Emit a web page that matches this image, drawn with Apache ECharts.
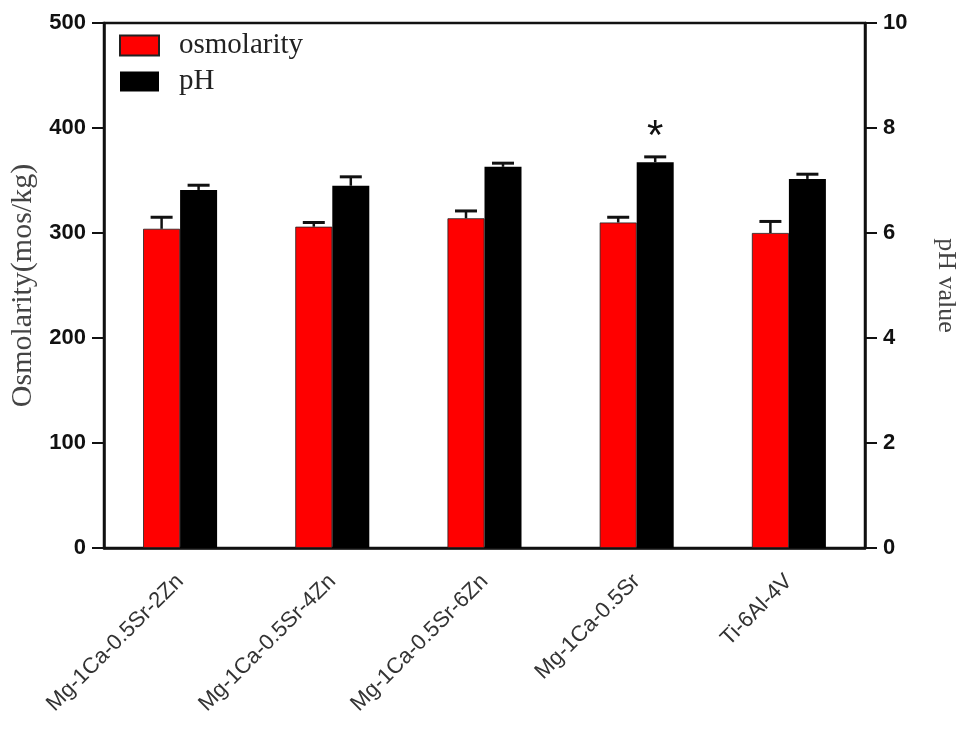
<!DOCTYPE html>
<html>
<head>
<meta charset="utf-8">
<script src="https://cdn.jsdelivr.net/npm/echarts@6/dist/echarts.min.js"></script>
<style>
  html, body { margin: 0; padding: 0; background: #fff; }
  #main { width: 961px; height: 730px; }
</style>
</head>
<body>
<div id="main"></div>
<script>
var categories = ['Mg-1Ca-0.5Sr-2Zn', 'Mg-1Ca-0.5Sr-4Zn', 'Mg-1Ca-0.5Sr-6Zn', 'Mg-1Ca-0.5Sr', 'Ti-6Al-4V'];
var osmolarity = [304, 306, 314, 310, 300];
var osmolaritySd = [11, 4, 7, 5, 11];
var phValue = [6.82, 6.90, 7.26, 7.35, 7.03];
var phSd = [0.09, 0.17, 0.07, 0.10, 0.09];
var starIndex = 3;

var chart = echarts.init(document.getElementById('main'));
var barW = 37;

function errData(vals, sds) {
    return vals.map(function (v, i) { return [i, v, sds[i]]; });
}

// vertical error bar with a cap, shifted onto its own bar
function errRender(offset) {
    return function (params, api) {
        var i = api.value(0), v = api.value(1), s = api.value(2);
        var base = api.coord([i, v]);
        var top = api.coord([i, v + s]);
        var x = base[0] + offset;
        return {
            type: 'group',
            children: [
                { type: 'line', shape: { x1: x, y1: base[1], x2: x, y2: top[1] }, style: { stroke: '#111', lineWidth: 2.5 } },
                { type: 'line', shape: { x1: x - 11, y1: top[1], x2: x + 11, y2: top[1] }, style: { stroke: '#111', lineWidth: 3 } }
            ]
        };
    };
}

var phData = phValue.map(function (v, i) {
    if (i !== starIndex) return v;
    return {
        value: v,
        label: { show: true, position: 'top', distance: 4, formatter: '*', fontSize: 42, color: '#111', fontFamily: 'Liberation Sans' }
    };
});

var tickLabel = { fontFamily: 'Liberation Sans', fontWeight: 'bold', fontSize: 22, color: '#111', margin: 18 };

var option = {
    animation: false,
    backgroundColor: '#fff',
    grid: {
        left: 104, right: 96, top: 23, bottom: 182,
        outerBoundsMode: 'none',
        show: true, borderColor: '#111', borderWidth: 2.5, backgroundColor: 'transparent'
    },
    legend: {
        orient: 'vertical',
        left: 114, top: 26,
        icon: 'rect',
        itemWidth: 39, itemHeight: 20, itemGap: 7,
        data: ['osmolarity', 'pH'],
        textStyle: { fontFamily: 'Liberation Serif', fontSize: 29, color: '#222', padding: [0, 0, 0, 15] }
    },
    xAxis: {
        type: 'category',
        data: categories,
        axisLine: { lineStyle: { color: '#111', width: 2.5 } },
        axisTick: { alignWithLabel: true, length: 9, lineStyle: { color: '#111', width: 2 } },
        axisLabel: { rotate: 45, interval: 0, margin: 30, fontFamily: 'Liberation Sans', fontSize: 22, color: '#333' }
    },
    yAxis: [{
        type: 'value', min: 0, max: 500, interval: 100,
        name: 'Osmolarity(mos/kg)', nameLocation: 'middle', nameGap: 64,
        nameTextStyle: { fontFamily: 'Liberation Serif', fontSize: 30, color: '#444' },
        axisLine: { show: true, lineStyle: { color: '#111', width: 2.5 } },
        axisTick: { show: true, length: 12, lineStyle: { color: '#111', width: 2 } },
        axisLabel: tickLabel,
        splitLine: { show: false }
    }, {
        type: 'value', min: 0, max: 10, interval: 2, position: 'right',
        name: 'pH value', nameLocation: 'middle', nameGap: 68, nameRotate: -90,
        nameTextStyle: { fontFamily: 'Liberation Serif', fontSize: 26, color: '#444' },
        axisLine: { show: true, lineStyle: { color: '#111', width: 2.5 } },
        axisTick: { show: true, length: 12, lineStyle: { color: '#111', width: 2 } },
        axisLabel: tickLabel,
        splitLine: { show: false }
    }],
    series: [{
        name: 'osmolarity', type: 'bar', yAxisIndex: 0,
        barWidth: barW, barGap: '0%',
        itemStyle: { color: '#ff0000', borderColor: '#222', borderWidth: 0.8 },
        data: osmolarity
    }, {
        name: 'pH', type: 'bar', yAxisIndex: 1,
        barWidth: barW, barGap: '0%',
        itemStyle: { color: '#000000' },
        data: phData
    }, {
        type: 'custom', yAxisIndex: 0, z: 10,
        renderItem: errRender(-barW / 2),
        encode: { x: 0, y: 1 },
        data: errData(osmolarity, osmolaritySd)
    }, {
        type: 'custom', yAxisIndex: 1, z: 10,
        renderItem: errRender(barW / 2),
        encode: { x: 0, y: 1 },
        data: errData(phValue, phSd)
    }]
};

chart.setOption(option);
</script>
</body>
</html>
